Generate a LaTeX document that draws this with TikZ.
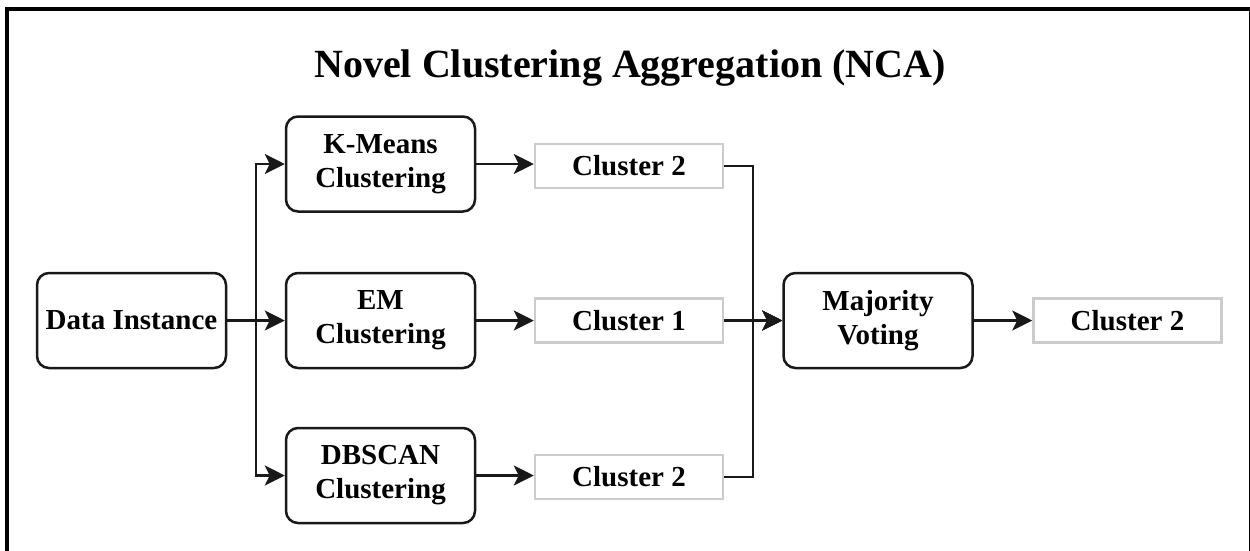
\documentclass[tikz,border=0pt]{standalone}
\usepackage{fontspec}
\setmainfont{Liberation Serif}
\usetikzlibrary{arrows.meta}

\begin{document}
\begin{tikzpicture}[x=1pt,y=-1pt,
  proc/.style={draw=black!90, line width=2.5pt, rounded corners=12pt,
    minimum width=189pt, minimum height=95pt, inner sep=0pt, align=center,
    font=\fontsize{29}{34}\selectfont\bfseries},
  result/.style={draw=black!20, line width=2.5pt, minimum width=188pt,
    minimum height=44pt, inner sep=0pt,
    font=\fontsize{29}{34}\selectfont\bfseries},
  link/.style={line width=2.5pt, draw=black!90,
    -{Stealth[length=20pt,width=20pt,inset=5pt]}}]

\useasboundingbox (0,0) rectangle (1250,550);
\begin{scope}
  \clip (0,0) rectangle (1250,550);
  \draw[line width=4pt] (7,9) rectangle (1251,580);
\end{scope}

% title
\node[font=\fontsize{40}{48}\selectfont\bfseries] (title) at (630,68)
  {Novel Clustering Aggregation (NCA)};

% input
\node[proc] (data) at (131.5,320.5) {Data Instance};

% base clusterers
\node[proc] (km) at (380.5,164)   {K-Means\\Clustering};
\node[proc] (em) at (380.5,320.5) {EM\\Clustering};
\node[proc] (db) at (380.5,475.5) {DBSCAN\\Clustering};

% their outputs
\node[result] (ra) at (629,166) {Cluster 2};
\node[result] (rb) at (629,320.5) {Cluster 1};
\node[result] (rc) at (629,477) {Cluster 2};

% aggregation
\node[proc] (vote) at (878,320.5) {Majority\\Voting};
\node[result] (final) at (1127.5,320.5) {Cluster 2};

% branch and merge points
\coordinate (split) at (256,320.5);
\coordinate (join) at (753,320.5);

\draw[link] (data.east) -- (split) |- (km.west);
\draw[link] (data.east) -- (em.west);
\draw[link] (data.east) -- (split) |- (db.west);

\draw[link] (km.east) -- (km.east -| ra.west);
\draw[link] (em.east) -- (rb.west);
\draw[link] (db.east) -- (db.east -| rc.west);

\draw[link] (ra.east) -| (join) -- (vote.west);
\draw[link] (rb.east) -- (vote.west);
\draw[link] (rc.east) -| (join) -- (vote.west);

\draw[link] (vote.east) -- (final.west);
\end{tikzpicture}
\end{document}
